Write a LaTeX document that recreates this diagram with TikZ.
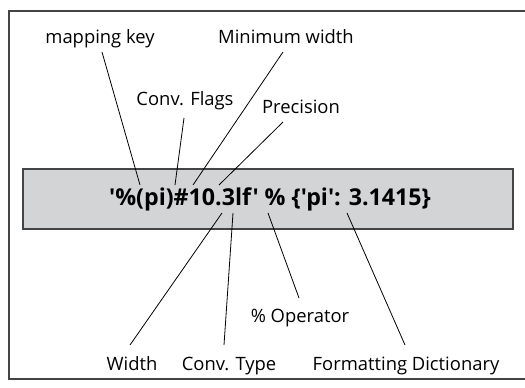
\documentclass[tikz,border=0pt]{standalone}
\usepackage{fontspec}
\newfontfamily\labfont{Open Sans}
\newfontfamily\codefont{Open Sans Bold}
\definecolor{framegray}{HTML}{444444}
\definecolor{boxgray}{HTML}{D3D4D6}
\tikzset{
  lab/.style={font=\labfont\fontsize{18.4}{20}\selectfont, anchor=base, inner sep=0pt, text=black},
  code/.style={font=\codefont\fontsize{23.2}{25}\selectfont, anchor=base, inner sep=0pt},
  conn/.style={draw=black, line width=0.8pt},
}
\begin{document}
\begin{tikzpicture}[x=1pt,y=-1pt]
\useasboundingbox (0,0) rectangle (525,388);
\clip (0,0) rectangle (525,388);
\fill[white] (0,0) rectangle (525,388);
\draw[framegray, line width=1.5pt] (9,11) rectangle (540,379);
\node[draw=framegray, line width=1.6pt, fill=boxgray, minimum width=490pt, minimum height=60pt, inner sep=0pt] (box) at (268,199) {};
\node[code] (code) at (270,205) {'\%(pi)\#10.3lf' \% \{'pi': 3.1415\}};

\node[lab] (mk) at (100,43) {mapping key};
\node[lab] (mw) at (286,43) {Minimum width};
\node[lab] (cf) at (185,105) {Conv. Flags};
\node[lab] (pr) at (301,113) {Precision};
\node[lab] (op) at (300,322) {\% Operator};
\node[lab] (wd) at (132,370) {Width};
\node[lab] (ct) at (229,370) {Conv. Type};
\node[lab] (fd) at (406,370) {Formatting Dictionary};

% ends on the labels
\coordinate (mk1) at (102,52);
\coordinate (cf1) at (184,118);
\coordinate (mw1) at (283,52);
\coordinate (pr1) at (283,122);
\coordinate (wd1) at (130,345);
\coordinate (ct1) at (224,345);
\coordinate (op1) at (299,298);
\coordinate (fd1) at (405,345);
% ends on the code text
\coordinate (mk2) at (140,185);
\coordinate (cf2) at (175,185);
\coordinate (mw2) at (193,185);
\coordinate (pr2) at (219,185);
\coordinate (wd2) at (222,213);
\coordinate (ct2) at (233,213);
\coordinate (op2) at (268,213);
\coordinate (fd2) at (347,213);

\draw[conn] (mk1) -- (mk2);
\draw[conn] (cf1) -- (cf2);
\draw[conn] (mw1) -- (mw2);
\draw[conn] (pr1) -- (pr2);
\draw[conn] (wd1) -- (wd2);
\draw[conn] (ct1) -- (ct2);
\draw[conn] (op1) -- (op2);
\draw[conn] (fd1) -- (fd2);
\end{tikzpicture}
\end{document}
